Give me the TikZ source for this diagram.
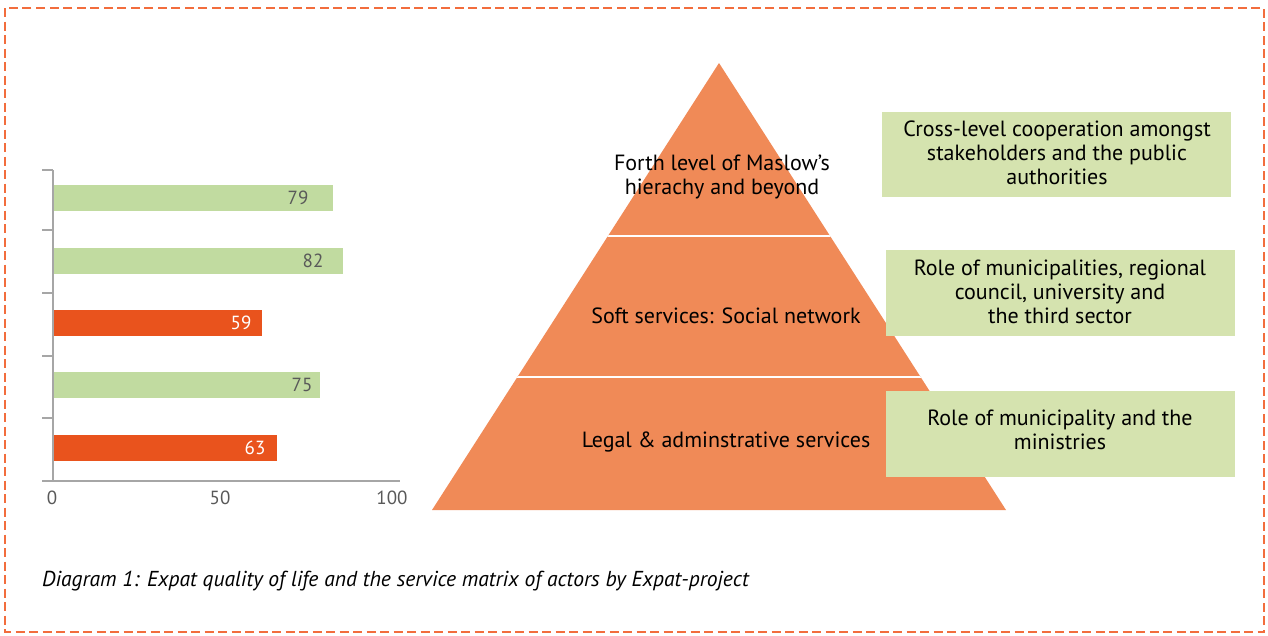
\documentclass[tikz,border=0pt]{standalone}
\usepackage{fontspec}
\setmainfont{PT Sans}
\definecolor{borderc}{HTML}{F26D3D}
\definecolor{pyr}{HTML}{F08A57}
\definecolor{barg}{HTML}{C1DBA0}
\definecolor{barr}{HTML}{E9531D}
\definecolor{boxg}{HTML}{D5E3AF}
\definecolor{axisc}{HTML}{A6A6A6}
\definecolor{lblc}{HTML}{595959}
\begin{document}
\begin{tikzpicture}[x=1pt,y=-1pt,
  border/.style={draw=borderc,line width=2.6pt,dash pattern=on 9pt off 4.5pt},
  axisline/.style={draw=axisc,line width=2pt},
  axlbl/.style={text=lblc,font=\fontsize{19}{22}\selectfont,inner sep=0pt},
  barlbl/.style={font=\fontsize{19}{22}\selectfont,inner sep=0pt},
  pyrtext/.style={text=black,font=\fontsize{22}{24}\selectfont,align=center,inner sep=0pt},
  gbox/.style={fill=boxg,draw=none,inner sep=0pt,anchor=north west},
  boxtext/.style={text=black,font=\fontsize{22}{24}\selectfont,align=center,inner sep=0pt},
  caption/.style={font=\itshape\fontsize{21.6}{24}\selectfont,inner sep=0pt,anchor=west}]
\useasboundingbox (0,0) rectangle (1268,635);
\draw[border] (5,8) rectangle (1264,632);

% ---- bar chart ----
\coordinate (ytop) at (53,170);
\coordinate (origin) at (53,481);
\coordinate (xleft) at (42,481);
\coordinate (xend) at (400,481);
\foreach \yy/\xe/\val/\col/\tc/\lx [count=\i] in {
  185/333/79/barg/lblc/298,
  248/343/82/barg/lblc/313,
  310/262/59/barr/white/241,
  372/320/75/barg/lblc/302,
  435/277/63/barr/white/255}{
  \fill[\col] (54,\yy) rectangle (\xe,\yy+26);
  \node[barlbl,text=\tc] (bl\i) at (\lx,\yy+13) {\val};
}
\foreach \ty [count=\i] in {170,230,293,356,418}{
  \coordinate (tk\i) at (42,\ty);
  \coordinate (ta\i) at (53,\ty);
  \draw[axisline] (tk\i) -- (ta\i);
}
\draw[axisline] (ytop) -- (origin);
\draw[axisline] (xleft) -- (xend);
\node[axlbl] (x0) at (52,498) {0};
\node[axlbl] (x50) at (220,498) {50};
\node[axlbl] (x100) at (392,498) {100};

% ---- pyramid ----
\coordinate (apex) at (719,63);
\coordinate (bl) at (432,510);
\coordinate (br) at (1006,510);
\fill[pyr] (apex) -- (br) -- (bl) -- cycle;
\coordinate (l1a) at (600,236);
\coordinate (l1b) at (840,236);
\coordinate (l2a) at (500,377);
\coordinate (l2b) at (940,377);
\begin{scope}
  \clip (apex) -- (br) -- (bl) -- cycle;
  \draw[white,line width=2.6pt] (l1a) -- (l1b);
  \draw[white,line width=2.6pt] (l2a) -- (l2b);
\end{scope}
\node[pyrtext] (p1) at (722,177) {Forth level of Maslow’s\\hierachy and beyond};
\node[pyrtext] (p2) at (726,316) {Soft services: Social network};
\node[pyrtext] (p3) at (726,442) {Legal \& adminstrative services};

% ---- green boxes ----
\node[gbox,minimum width=349pt,minimum height=85pt] (b1) at (882,112) {};
\node[gbox,minimum width=349pt,minimum height=86pt] (b2) at (886,250) {};
\node[gbox,minimum width=349pt,minimum height=86pt] (b3) at (886,391) {};
\node[boxtext] (t1) at (1057,153) {Cross-level cooperation amongst\\stakeholders and the public\\authorities};
\node[boxtext] (t2) at (1060,292) {Role of municipalities, regional\\council, university and\\the third sector};
\node[boxtext] (t3) at (1060,430) {Role of municipality and the\\ministries};

% ---- caption ----
\node[caption] (cap) at (42,581) {Diagram 1: Expat quality of life and the service matrix of actors by Expat-project};
\end{tikzpicture}
\end{document}
